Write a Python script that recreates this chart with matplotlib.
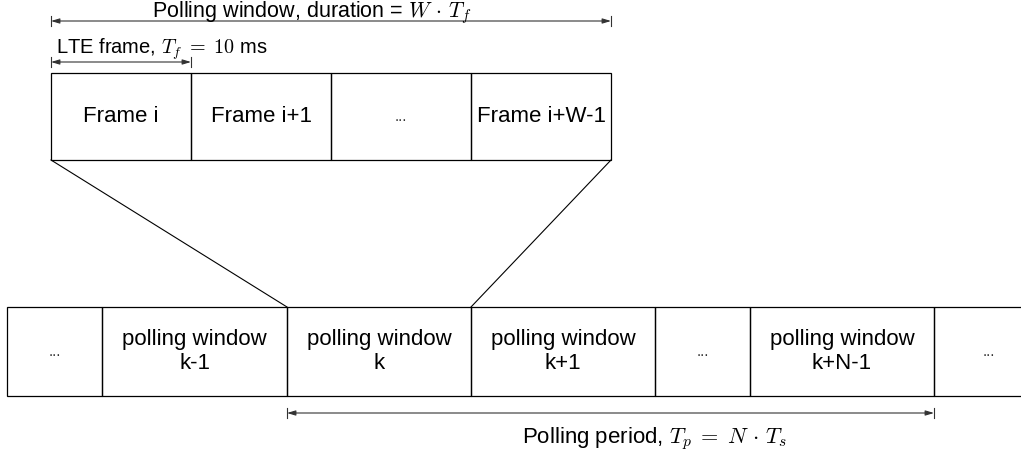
import matplotlib
matplotlib.use("Agg")
import matplotlib.pyplot as plt
from matplotlib.patches import Rectangle

plt.rcParams['font.family'] = ['Liberation Sans', 'DejaVu Sans']
plt.rcParams['mathtext.fontset'] = 'cm'

# frames inside one polling window (top row)
frame_labels = ['Frame i', 'Frame i+1', '...', 'Frame i+W-1']
frame_widths = [140, 140, 140, 140]

# polling windows (bottom row)
window_labels = ['...', 'polling window\nk-1', 'polling window\nk', 'polling window\nk+1',
                 '...', 'polling window\nk+N-1', '...']
window_widths = [95, 185, 184, 184, 95, 184, 110]

top_x0, top_y0, top_h = 51, 73, 87
bot_x0, bot_y0, bot_h = 7, 307, 89

fig = plt.figure(figsize=(10.21, 4.65), dpi=100)
ax = fig.add_axes([0, 0, 1, 1])
ax.set_xlim(0, 1021)
ax.set_ylim(465, 0)
ax.axis('off')


def draw_row(x0, y0, h, widths, labels):
    edges = [x0]
    for w, lab in zip(widths, labels):
        x = edges[-1]
        ax.add_patch(Rectangle((x, y0), w, h, fill=False, ec='black', lw=0.9))
        if lab == '...':
            ax.text(x + w / 2, y0 + h / 2, lab, ha='center', va='center', fontsize=11, color='#333333')
        else:
            ax.text(x + w / 2, y0 + h / 2, lab, ha='center', va='center', fontsize=16,
                    linespacing=1.15)
        edges.append(x + w)
    return edges


def dim_arrow(x1, x2, y):
    ax.annotate('', xy=(x2, y), xytext=(x1, y),
                arrowprops=dict(arrowstyle='<|-|>,head_length=0.5,head_width=0.15',
                                color='#333333', lw=0.8, shrinkA=0, shrinkB=0))
    for x in (x1, x2):
        ax.plot([x, x], [y - 5, y + 5], color='#333333', lw=0.8)


top_edges = draw_row(top_x0, top_y0, top_h, frame_widths, frame_labels)
bot_edges = draw_row(bot_x0, bot_y0, bot_h, window_widths, window_labels)

# zoom lines from frame row down to polling window k
ax.plot([top_edges[0], bot_edges[2]], [top_y0 + top_h, bot_y0], color='black', lw=0.8)
ax.plot([top_edges[-1], bot_edges[3]], [top_y0 + top_h, bot_y0], color='black', lw=0.8)

dim_arrow(top_edges[0], top_edges[-1], 21)
ax.text(152, 17, r'Polling window, duration = $W\,\cdot\,T_f$', ha='left', va='baseline', fontsize=15.5)

dim_arrow(top_edges[0], top_edges[1], 62)
ax.text(56, 54, r'LTE frame, $T_f\;=\;10$ ms', ha='left', va='baseline', fontsize=14.5)

dim_arrow(bot_edges[2], bot_edges[6], 413)
ax.text(522, 443, r'Polling period, $T_p\;=\;N\,\cdot\,T_s$', ha='left', va='baseline', fontsize=16)

fig.savefig('out.png', dpi=100)
